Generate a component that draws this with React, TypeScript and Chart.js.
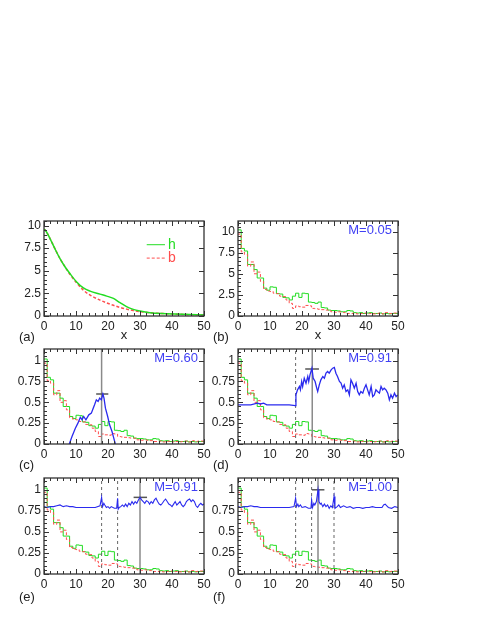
import React, { useEffect, useRef } from 'react';
import { Chart, registerables } from 'chart.js';

Chart.register(...registerables);

// ---------------- data ----------------
const xTickValues = [0, 10, 20, 30, 40, 50];
const yTickValuesA = [0, 2.5, 5, 7.5, 10];
const yTickValuesN = [0, 0.25, 0.5, 0.75, 1];

// panel (a): smooth distributions
const curveX = [0, 0.5, 1.9, 3.4, 5.0, 6.6, 8.1, 10.2, 12.3, 14.4, 17.5, 19.6, 21.7, 23.75, 25.8, 27.9, 30, 33.1, 38.3, 43.5, 50];
const curveH = [9.6, 9.45, 8.54, 7.44, 6.34, 5.42, 4.69, 3.77, 3.11, 2.75, 2.42, 2.2, 1.94, 1.47, 1.03, 0.73, 0.55, 0.37, 0.26, 0.18, 0.11];
const curveB = [9.6, 9.45, 8.54, 7.44, 6.34, 5.42, 4.62, 3.66, 2.86, 2.31, 1.76, 1.45, 1.18, 0.95, 0.76, 0.6, 0.48, 0.36, 0.25, 0.17, 0.11];

// panel (b): histograms (bin width 1, bins 0..49)
const histHb = [10.2, 10.2, 8.0, 7.7, 6.1, 6.1, 5.5, 4.5, 4.5, 3.3, 3.05, 3.45, 3.4, 2.65, 2.6, 2.2, 2.15, 1.9, 2.35, 2.7, 2.2, 2.7, 2.65, 1.65, 1.6, 1.5, 1.65, 1.0, 0.95, 0.7, 0.65, 0.65, 0.6, 0.5, 0.5, 0.65, 0.6, 0.4, 0.35, 0.4, 0.3, 0.35, 0.4, 0.3, 0.3, 0.35, 0.25, 0.3, 0.25, 0.3];
const histBb = [9.6, 9.7, 7.6, 7.3, 5.9, 6.4, 5.0, 5.2, 4.1, 3.15, 2.95, 2.9, 2.7, 2.65, 2.35, 2.3, 1.9, 1.5, 0.9, 1.2, 1.1, 1.05, 1.25, 1.2, 0.9, 0.85, 0.8, 0.75, 0.7, 0.7, 0.5, 0.45, 0.5, 0.45, 0.4, 0.3, 0.3, 0.35, 0.25, 0.3, 0.35, 0.25, 0.3, 0.25, 0.3, 0.35, 0.25, 0.4, 0.3, 0.35];

// panels (c)-(f): normalised histograms
const histHn = [1.02, 1.02, 0.8, 0.77, 0.61, 0.61, 0.55, 0.45, 0.45, 0.33, 0.305, 0.345, 0.34, 0.265, 0.26, 0.22, 0.215, 0.19, 0.235, 0.27, 0.22, 0.27, 0.265, 0.165, 0.16, 0.15, 0.165, 0.1, 0.095, 0.07, 0.065, 0.065, 0.06, 0.05, 0.05, 0.065, 0.06, 0.04, 0.035, 0.04, 0.03, 0.035, 0.04, 0.03, 0.03, 0.035, 0.025, 0.03, 0.025, 0.03];
const histBn = [0.96, 0.97, 0.76, 0.73, 0.59, 0.64, 0.5, 0.52, 0.41, 0.315, 0.295, 0.29, 0.27, 0.265, 0.235, 0.23, 0.19, 0.15, 0.09, 0.12, 0.11, 0.105, 0.125, 0.12, 0.09, 0.085, 0.08, 0.075, 0.07, 0.07, 0.05, 0.045, 0.05, 0.045, 0.04, 0.03, 0.03, 0.035, 0.025, 0.03, 0.035, 0.025, 0.03, 0.025, 0.03, 0.035, 0.025, 0.04, 0.03, 0.035];

// blue curves
const blueCx = [7.9, 8.75, 9.8, 10.6, 11.35, 11.9, 12.4, 13.1, 14.0, 14.8, 15.2, 15.8, 16.35, 16.9, 17.4, 17.9, 18.4, 18.75, 19.2, 19.9, 20.5, 21.25, 21.8, 22.3];
const blueCy = [0, 0.09, 0.19, 0.25, 0.32, 0.29, 0.33, 0.29, 0.35, 0.37, 0.41, 0.47, 0.53, 0.51, 0.55, 0.53, 0.6, 0.55, 0.43, 0.33, 0.23, 0.15, 0.07, 0];

const blueDx = [0, 2, 4, 6, 7, 8, 9, 10, 12, 14, 16, 17.9, 18.1, 18.6, 19.2, 19.5, 19.9, 20.2, 20.7, 21.25, 21.8, 22.1, 22.5, 23.1, 23.5, 24.1, 24.6, 24.9, 25.4, 25.9, 26.5, 27, 27.5, 28, 28.5, 29.1, 29.6, 30.1, 30.6, 31.1, 31.7, 32.2, 32.7, 33.2, 33.75, 34.3, 34.8, 35.3, 35.8, 36.35, 36.9, 37.4, 37.9, 38.4, 39, 39.5, 40, 40.5, 41, 41.6, 42.1, 42.6, 43.1, 43.6, 44.2, 44.7, 45.2, 45.7, 46.25, 46.8, 47.3, 47.8, 48.3, 48.9, 49.4, 49.9];
const blueDy = [0.47, 0.47, 0.47, 0.49, 0.48, 0.49, 0.47, 0.47, 0.47, 0.47, 0.47, 0.46, 0.59, 0.65, 0.69, 0.65, 0.75, 0.69, 0.79, 0.73, 0.81, 0.75, 0.83, 0.91, 0.79, 0.75, 0.67, 0.63, 0.71, 0.77, 0.81, 0.79, 0.85, 0.87, 0.85, 0.89, 0.91, 0.92, 0.85, 0.81, 0.75, 0.73, 0.67, 0.71, 0.63, 0.65, 0.59, 0.77, 0.73, 0.67, 0.73, 0.63, 0.59, 0.63, 0.61, 0.67, 0.71, 0.65, 0.59, 0.69, 0.57, 0.59, 0.65, 0.63, 0.61, 0.69, 0.65, 0.67, 0.65, 0.61, 0.53, 0.59, 0.55, 0.61, 0.57, 0.59];

const blueEx = [0, 1, 2, 3, 4, 5, 6, 7, 8, 9, 10, 12, 14, 16, 17.5, 18, 18.3, 18.7, 19, 19.5, 20, 20.5, 21, 22, 22.7, 23, 23.2, 23.5, 24, 24.5, 25, 25.5, 26, 26.5, 27, 27.5, 28, 28.5, 29, 29.5, 30, 30.5, 31, 31.5, 32, 32.5, 33, 33.5, 34, 34.5, 35, 35.5, 36, 36.5, 37, 37.5, 38, 38.5, 39, 39.5, 40, 40.5, 41, 41.5, 42, 42.5, 43, 43.5, 44, 44.5, 45, 45.5, 46, 46.5, 47, 47.5, 48, 48.5, 49, 49.5, 50];
const blueEy = [0.8, 0.79, 0.8, 0.8, 0.81, 0.82, 0.8, 0.81, 0.8, 0.8, 0.79, 0.79, 0.79, 0.79, 0.81, 0.91, 0.8, 0.84, 0.82, 0.79, 0.8, 0.78, 0.8, 0.78, 0.78, 0.9, 0.77, 0.79, 0.8, 0.82, 0.8, 0.83, 0.8, 0.84, 0.82, 0.86, 0.83, 0.86, 0.84, 0.88, 0.91, 0.88, 0.86, 0.84, 0.87, 0.86, 0.83, 0.86, 0.84, 0.88, 0.9, 0.86, 0.83, 0.82, 0.84, 0.87, 0.89, 0.86, 0.83, 0.82, 0.8, 0.83, 0.86, 0.82, 0.84, 0.86, 0.82, 0.8, 0.82, 0.86, 0.88, 0.89, 0.86, 0.88, 0.86, 0.81, 0.79, 0.82, 0.84, 0.82, 0.83];

const blueFx = [0, 1, 2, 3, 4, 5, 6, 7, 8, 10, 12, 14, 16, 17.5, 18, 18.3, 18.7, 19, 19.5, 20, 21, 22, 22.8, 23, 23.3, 23.7, 24, 24.5, 25, 25.3, 25.7, 26, 26.5, 27, 27.5, 28, 28.5, 29, 29.5, 30, 30.3, 31, 31.5, 32, 33, 34, 35, 36, 37, 38, 39, 40, 41, 42, 43, 44, 45, 45.5, 46, 46.5, 47, 48, 49, 50];
const blueFy = [0.8, 0.79, 0.8, 0.8, 0.81, 0.8, 0.8, 0.79, 0.79, 0.79, 0.79, 0.79, 0.79, 0.8, 0.9, 0.8, 0.83, 0.8, 0.82, 0.79, 0.8, 0.78, 0.78, 0.88, 0.79, 0.84, 0.82, 0.86, 1.0, 0.86, 0.83, 0.84, 0.8, 0.83, 0.8, 0.82, 0.78, 0.81, 0.79, 0.92, 0.78, 0.8, 0.82, 0.79, 0.81, 0.79, 0.8, 0.78, 0.79, 0.79, 0.78, 0.79, 0.79, 0.8, 0.79, 0.79, 0.79, 0.82, 0.83, 0.81, 0.79, 0.78, 0.8, 0.79];

// markers: solid line position, cap level and extent, dashed lines
const markC = { solid: 18, cap: 0.6, capFrom: 16.3, capTo: 20.1, dashed: [] as number[] };
const markD = { solid: 23.2, cap: 0.9, capFrom: 21, capTo: 25.3, dashed: [18] };
const markE = { solid: 30, cap: 0.91, capFrom: 28, capTo: 32.2, dashed: [18, 23] };
const markF = { solid: 25, cap: 1.0, capFrom: 23.1, capTo: 27, dashed: [18, 23, 30] };

// ---------------- styling ----------------
const FONT = "'Liberation Sans', Arial, Helvetica, sans-serif";
const GREEN = '#22dd22';
const RED = '#ff4d4d';
const BLUE = '#2a2aee';
const MBLUE = '#4040f4';

const isMultiple = (v: number, step: number) => Math.abs(v / step - Math.round(v / step)) < 1e-6;

const decoPlugin = {
  id: 'deco',
  afterDraw(chart: any, _args: any, o: any) {
    const { ctx, chartArea: ca } = chart;
    const xs = chart.scales.x;
    const ys = chart.scales.y;
    ctx.save();
    ctx.setLineDash([]);
    ctx.strokeStyle = '#333';
    ctx.lineWidth = 1;
    const seg = (x1: number, y1: number, x2: number, y2: number) => {
      ctx.beginPath();
      ctx.moveTo(x1, y1);
      ctx.lineTo(x2, y2);
      ctx.stroke();
    };
    // x ticks, top and bottom, inward
    for (let i = 0; xs.min + i * o.xMinor <= xs.max + 1e-9; i++) {
      const v = xs.min + i * o.xMinor;
      const px = Math.round(xs.getPixelForValue(v)) + 0.5;
      const len = isMultiple(v, o.xMajor) ? 5 : 3;
      seg(px, ca.bottom, px, ca.bottom - len);
      seg(px, ca.top, px, ca.top + len);
    }
    // y ticks, left (major+minor) and right (major)
    for (let i = 0; ys.min + i * o.yMinor <= ys.max + 1e-9; i++) {
      const v = ys.min + i * o.yMinor;
      const py = Math.round(ys.getPixelForValue(v)) + 0.5;
      const major = isMultiple(v, o.yMajor);
      seg(ca.left, py, ca.left + (major ? 5 : 3), py);
      if (major) seg(ca.right, py, ca.right - 5, py);
    }
    // frame
    ctx.lineWidth = 1.3;
    ctx.strokeRect(ca.left, ca.top, ca.width, ca.height);

    // M label
    if (o.mText) {
      ctx.fillStyle = MBLUE;
      ctx.font = `13px ${FONT}`;
      ctx.textAlign = 'right';
      ctx.textBaseline = 'alphabetic';
      ctx.fillText(o.mText, ca.right - 6, ca.top + 13);
    }
    // panel label
    ctx.fillStyle = '#222';
    ctx.font = `13px ${FONT}`;
    ctx.textAlign = 'left';
    ctx.textBaseline = 'middle';
    ctx.fillText(o.label, ca.left - 25, ca.bottom + o.labelDy);
    // axis title
    if (o.xTitle) {
      ctx.textAlign = 'center';
      ctx.fillText('x', (ca.left + ca.right) / 2, ca.bottom + 19);
    }
    // legend
    if (o.legend) {
      for (const it of o.legend) {
        const py = ys.getPixelForValue(it.y);
        const x0 = xs.getPixelForValue(it.x0);
        const x1 = xs.getPixelForValue(it.x1);
        ctx.strokeStyle = it.color;
        ctx.lineWidth = 1;
        ctx.setLineDash(it.dash);
        seg(x0, py, x1, py);
        ctx.setLineDash([]);
        ctx.fillStyle = it.color;
        ctx.font = `14px ${FONT}`;
        ctx.textAlign = 'left';
        ctx.textBaseline = 'middle';
        ctx.fillText(it.text, x1 + 3, py);
      }
    }
    ctx.restore();
  },
};

const pts = (xv: number[], yv: number[]) => xv.map((x, i) => ({ x, y: yv[i] }));
const histPts = (vals: number[]) => [...vals.map((v, i) => ({ x: i, y: v })), { x: vals.length, y: vals[vals.length - 1] }];

function histSets(h: number[], b: number[]) {
  return [
    { data: histPts(h), borderColor: GREEN, borderWidth: 1, stepped: 'after', order: 5 },
    { data: histPts(b), borderColor: RED, borderWidth: 1, borderDash: [3, 2], stepped: 'after', order: 4 },
  ];
}

function markerSets(m: { solid: number; cap: number; capFrom: number; capTo: number; dashed: number[] }, yMax: number) {
  const sets: any[] = m.dashed.map((d) => ({
    data: [{ x: d, y: 0 }, { x: d, y: yMax }],
    borderColor: '#666',
    borderWidth: 1,
    borderDash: [3, 3],
    order: 3,
  }));
  sets.push({ data: [{ x: m.solid, y: 0 }, { x: m.solid, y: yMax }], borderColor: '#8a8a8a', borderWidth: 1.5, order: 2 });
  sets.push({ data: [{ x: m.capFrom, y: m.cap }, { x: m.capTo, y: m.cap }], borderColor: '#555', borderWidth: 1.5, order: 1 });
  return sets;
}

type Spec = {
  left: number;
  top: number;
  h: number;
  yMax: number;
  yTicks: number[];
  yMajor: number;
  yMinor: number;
  label: string;
  labelDy: number;
  mText?: string;
  xTitle?: boolean;
  legend?: any[];
  datasets: any[];
};

const N_MAX = 1.14;

const specs: Spec[] = [
  {
    left: 44, top: 221, h: 95, yMax: 10.5, yTicks: yTickValuesA, yMajor: 2.5, yMinor: 0.5,
    label: '(a)', labelDy: 21, xTitle: true,
    legend: [
      { x0: 32.1, x1: 37.8, y: 7.88, color: GREEN, dash: [], text: 'h' },
      { x0: 32.1, x1: 37.8, y: 6.4, color: RED, dash: [3, 2], text: 'b' },
    ],
    datasets: [
      { data: pts(curveX, curveH), borderColor: GREEN, borderWidth: 1.5, cubicInterpolationMode: 'monotone' },
      { data: pts(curveX, curveB), borderColor: RED, borderWidth: 1.5, borderDash: [3, 2], cubicInterpolationMode: 'monotone' },
    ],
  },
  {
    left: 238, top: 221, h: 95, yMax: 11.25, yTicks: yTickValuesA, yMajor: 2.5, yMinor: 0.5,
    label: '(b)', labelDy: 21, xTitle: true, mText: 'M=0.05',
    datasets: histSets(histHb, histBb),
  },
  {
    left: 44, top: 349, h: 95, yMax: N_MAX, yTicks: yTickValuesN, yMajor: 0.25, yMinor: 0.05,
    label: '(c)', labelDy: 21, mText: 'M=0.60',
    datasets: [...histSets(histHn, histBn), { data: pts(blueCx, blueCy), borderColor: BLUE, borderWidth: 1.3, order: 0 }, ...markerSets(markC, N_MAX)],
  },
  {
    left: 238, top: 349, h: 95, yMax: N_MAX, yTicks: yTickValuesN, yMajor: 0.25, yMinor: 0.05,
    label: '(d)', labelDy: 21, mText: 'M=0.91',
    datasets: [...histSets(histHn, histBn), { data: pts(blueDx, blueDy), borderColor: BLUE, borderWidth: 1.3, order: 0 }, ...markerSets(markD, N_MAX)],
  },
  {
    left: 44, top: 478, h: 96, yMax: N_MAX, yTicks: yTickValuesN, yMajor: 0.25, yMinor: 0.05,
    label: '(e)', labelDy: 23, mText: 'M=0.91',
    datasets: [...histSets(histHn, histBn), { data: pts(blueEx, blueEy), borderColor: BLUE, borderWidth: 1.1, order: 0 }, ...markerSets(markE, N_MAX)],
  },
  {
    left: 238, top: 478, h: 96, yMax: N_MAX, yTicks: yTickValuesN, yMajor: 0.25, yMinor: 0.05,
    label: '(f)', labelDy: 23, mText: 'M=1.00',
    datasets: [...histSets(histHn, histBn), { data: pts(blueFx, blueFy), borderColor: BLUE, borderWidth: 1.1, order: 0 }, ...markerSets(markF, N_MAX)],
  },
];

const PAD_L = 44;
const PAD_T = 12;
const PAD_R = 12;
const PAD_B = 40;
const FRAME_W = 160;

const fmtTick = (v: any) => `${Number(v)}`;

function Panel({ spec }: { spec: Spec }) {
  const ref = useRef<HTMLCanvasElement>(null);
  const w = PAD_L + FRAME_W + PAD_R;
  const h = PAD_T + spec.h + PAD_B;
  useEffect(() => {
    const chart = new Chart(ref.current as HTMLCanvasElement, {
      type: 'line',
      data: {
        datasets: spec.datasets.map((d) => ({ fill: false, pointRadius: 0, pointHoverRadius: 0, ...d })),
      },
      options: {
        responsive: false,
        animation: false,
        events: [],
        layout: { padding: { left: 0, top: PAD_T, right: PAD_R, bottom: 0 } },
        plugins: {
          legend: { display: false },
          tooltip: { enabled: false },
          // @ts-ignore
          deco: {
            xMajor: 10, xMinor: 2, yMajor: spec.yMajor, yMinor: spec.yMinor,
            label: spec.label, labelDy: spec.labelDy, mText: spec.mText, xTitle: spec.xTitle, legend: spec.legend,
          },
        },
        scales: {
          x: {
            type: 'linear',
            min: 0,
            max: 50,
            afterBuildTicks: (s: any) => { s.ticks = xTickValues.map((v) => ({ value: v })); },
            afterFit: (s: any) => { s.height = PAD_B; },
            grid: { display: false, drawTicks: false },
            border: { display: false },
            ticks: { color: '#222', font: { family: FONT, size: 12 }, padding: 3, maxRotation: 0, autoSkip: false, callback: fmtTick },
          },
          y: {
            type: 'linear',
            min: 0,
            max: spec.yMax,
            afterBuildTicks: (s: any) => { s.ticks = spec.yTicks.map((v) => ({ value: v })); },
            afterFit: (s: any) => { s.width = PAD_L; },
            grid: { display: false, drawTicks: false },
            border: { display: false },
            ticks: { color: '#222', font: { family: FONT, size: 12 }, padding: 3, autoSkip: false, callback: fmtTick },
          },
        },
      } as any,
      plugins: [decoPlugin],
    });
    return () => chart.destroy();
  }, []);
  return (
    <canvas
      ref={ref}
      width={w}
      height={h}
      style={{ position: 'absolute', left: spec.left - PAD_L, top: spec.top - PAD_T, width: w, height: h }}
    />
  );
}

export default function App() {
  return (
    <div style={{ position: 'absolute', left: 0, top: 0, width: 478, height: 618, background: '#fff', overflow: 'hidden' }}>
      {specs.map((s) => (
        <Panel key={s.label} spec={s} />
      ))}
    </div>
  );
}
